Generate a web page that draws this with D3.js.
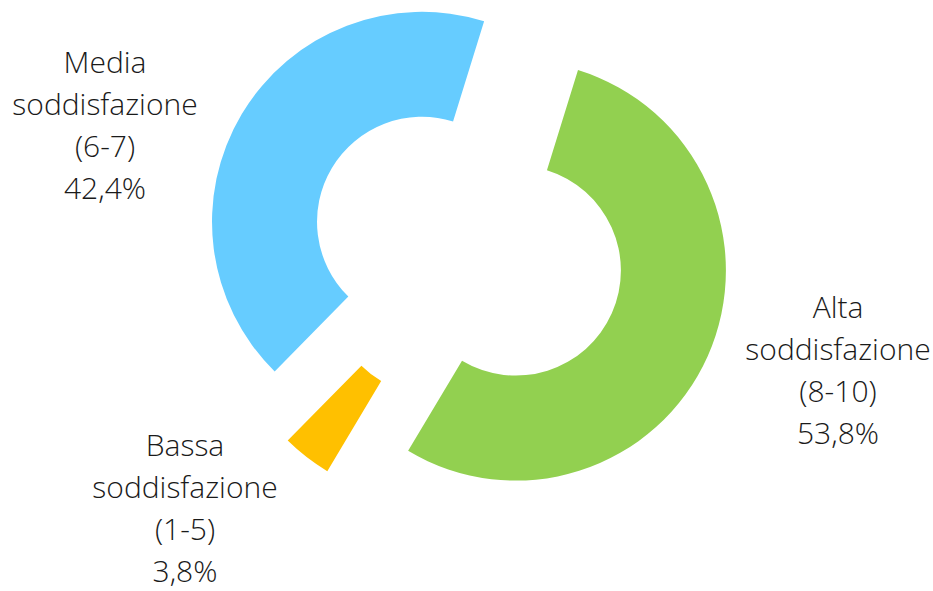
<!DOCTYPE html>
<html>
<head>
<meta charset="utf-8">
<script src="https://cdn.jsdelivr.net/npm/d3@7"></script>
<style>
  html, body { margin: 0; padding: 0; background: #fff; }
  svg { display: block; }
  .lbl { font-family: "Open Sans", "Segoe UI", sans-serif; font-weight: 300; font-size: 30px; fill: #1a1a1a; }
</style>
</head>
<body>
<svg id="chart" width="933" height="591"></svg>
<script>
// Satisfaction levels, in drawing order (clockwise)
const categories = ["Alta soddisfazione", "Bassa soddisfazione", "Media soddisfazione"];
const ranges = ["(8-10)", "(1-5)", "(6-7)"];
const shares = [53.8, 3.8, 42.4];
const colors = ["#92D050", "#FFC000", "#66CCFF"];
const percentLabels = ["53,8%", "3,8%", "42,4%"];

const width = 933, height = 591;
const cx = 467.5, cy = 249;
const outerR = 210, innerR = 105, explode = 53;
const startDeg = 17.2;

const svg = d3.select("#chart");

const pie = d3.pie()
  .sort(null)
  .value(d => d.value)
  .startAngle(startDeg * Math.PI / 180)
  .endAngle((startDeg + 360) * Math.PI / 180);

const data = categories.map((c, i) => ({
  name: c, range: ranges[i], value: shares[i], color: colors[i], pct: percentLabels[i]
}));

const arcs = pie(data);
const arc = d3.arc().innerRadius(innerR).outerRadius(outerR);

const g = svg.append("g").attr("transform", `translate(${cx},${cy})`);

g.selectAll("path")
  .data(arcs)
  .join("path")
  .attr("d", arc)
  .attr("fill", d => d.data.color)
  .attr("transform", d => {
    const mid = (d.startAngle + d.endAngle) / 2;
    return `translate(${explode * Math.sin(mid)},${-explode * Math.cos(mid)})`;
  });

// Data labels: name split over two lines, then range, then share
const labelPos = [
  { x: 838, y: 318 },
  { x: 185, y: 456 },
  { x: 105, y: 73 }
];
const lineGap = 42;

arcs.forEach((d, i) => {
  const words = d.data.name.split(" ");
  const lines = [words[0], words[1], d.data.range, d.data.pct];
  const t = svg.append("text")
    .attr("class", "lbl")
    .attr("text-anchor", "middle");
  lines.forEach((ln, k) => {
    t.append("tspan")
      .attr("x", labelPos[i].x)
      .attr("y", labelPos[i].y + k * lineGap)
      .text(ln);
  });
});
</script>
</body>
</html>
